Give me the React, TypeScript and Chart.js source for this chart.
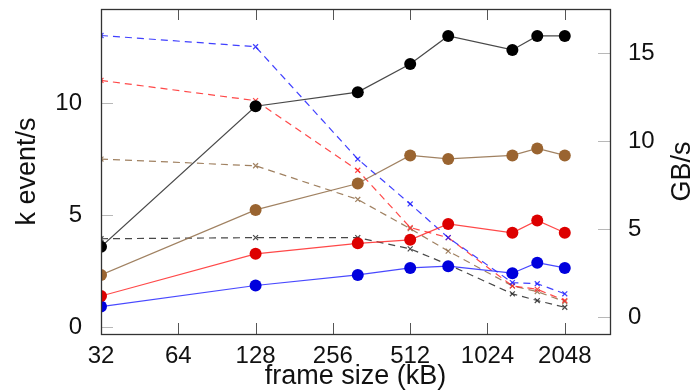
import React, { useEffect, useRef } from "react";
import { Chart, registerables } from "chart.js";

Chart.register(...registerables);

// frame sizes (kB)
const frameSizes = [32, 128, 320, 512, 720, 1280, 1600, 2048];
const xTickValues = [32, 64, 128, 256, 512, 1024, 2048];
const leftTickValues = [0, 5, 10];
const rightTickValues = [0, 5, 10, 15];

// throughput, GB/s (solid, right axis)
const gbBlack = [4.0, 12.0, 12.8, 14.4, 16.0, 15.2, 16.0, 16.0];
const gbBrown = [2.4, 6.1, 7.6, 9.2, 9.0, 9.2, 9.6, 9.2];
const gbRed = [1.2, 3.6, 4.2, 4.4, 5.3, 4.8, 5.5, 4.8];
const gbBlue = [0.6, 1.8, 2.4, 2.8, 2.9, 2.5, 3.1, 2.8];

// rate, k event/s (dashed, left axis)
const evBlue = [13.0, 12.5, 7.5, 5.5, 4.0, 2.0, 1.95, 1.5];
const evRed = [11.0, 10.1, 7.0, 4.45, 4.0, 1.85, 1.7, 1.2];
const evBrown = [7.5, 7.2, 5.7, 4.4, 3.4, 1.85, 1.6, 1.15];
const evBlack = [3.95, 4.0, 4.0, 3.5, 2.8, 1.5, 1.2, 0.9];

const FONT = "'Liberation Sans', 'DejaVu Sans', sans-serif";

const toPts = (ys: number[]) => frameSizes.map((x, i) => ({ x, y: ys[i] }));

const solid = (label: string, ys: number[], line: string, fill: string) => ({
  label,
  data: toPts(ys),
  yAxisID: "y2",
  borderColor: line,
  backgroundColor: fill,
  pointBackgroundColor: fill,
  pointBorderColor: fill,
  pointRadius: 6,
  pointBorderWidth: 0,
  borderWidth: 1.2,
  pointStyle: "circle",
  order: 0,
});

const dashed = (label: string, ys: number[], line: string) => ({
  label,
  data: toPts(ys),
  yAxisID: "y",
  borderColor: line,
  backgroundColor: line,
  pointBorderColor: line,
  pointRadius: 3.5,
  pointBorderWidth: 1.2,
  borderWidth: 1.2,
  borderDash: [7, 5],
  pointStyle: "crossRot",
  order: 1,
});

const framePlugin = {
  id: "framePlugin",
  afterDraw(chart: any) {
    const { ctx, chartArea } = chart;
    const { left, right, top, bottom } = chartArea;
    const x = chart.scales.x;
    const y = chart.scales.y;
    const y2 = chart.scales.y2;
    ctx.save();
    ctx.lineWidth = 1;
    // x ticks (bottom and top, inside)
    ctx.strokeStyle = "#555";
    for (const v of xTickValues) {
      const px = Math.round(x.getPixelForValue(v)) + 0.5;
      ctx.beginPath();
      ctx.moveTo(px, bottom);
      ctx.lineTo(px, bottom - 11);
      ctx.moveTo(px, top);
      ctx.lineTo(px, top + 11);
      ctx.stroke();
    }
    ctx.strokeStyle = "#b8b8b8";
    for (const v of leftTickValues) {
      const py = Math.round(y.getPixelForValue(v)) + 0.5;
      ctx.beginPath();
      ctx.moveTo(left, py);
      ctx.lineTo(left + 12, py);
      ctx.stroke();
    }
    for (const v of rightTickValues) {
      const py = Math.round(y2.getPixelForValue(v)) + 0.5;
      ctx.beginPath();
      ctx.moveTo(right, py);
      ctx.lineTo(right - 12, py);
      ctx.stroke();
    }
    // frame
    ctx.strokeStyle = "#333";
    ctx.lineWidth = 1.3;
    ctx.strokeRect(Math.round(left) + 0.5, Math.round(top) + 0.5, Math.round(right - left), Math.round(bottom - top));
    // right axis title (reads bottom-to-top)
    const t = chart.options.scales.y2.title;
    ctx.fillStyle = "#111";
    ctx.font = `27px ${FONT}`;
    ctx.textAlign = "center";
    ctx.textBaseline = "middle";
    ctx.translate(683, (top + bottom) / 2);
    ctx.rotate(-Math.PI / 2);
    ctx.fillText(t.text, 0, 0);
    ctx.restore();
  },
};

const fitVertical = (w: number) => (s: any) => {
  s.width = w;
  s.paddingTop = 0;
  s.paddingBottom = 0;
};

export default function App() {
  const ref = useRef<HTMLCanvasElement | null>(null);
  useEffect(() => {
    document.body.style.margin = "0";
    const canvas = ref.current!;
    const chart = new Chart(canvas, {
      type: "line",
      data: {
        datasets: [
          solid("black GB/s", gbBlack, "rgba(40,40,40,0.85)", "#000000"),
          solid("brown GB/s", gbBrown, "rgba(150,115,80,0.9)", "#9a6430"),
          solid("red GB/s", gbRed, "rgba(255,40,40,0.85)", "#dd0000"),
          solid("blue GB/s", gbBlue, "rgba(40,40,255,0.85)", "#0000dd"),
          dashed("blue k event/s", evBlue, "rgba(30,30,255,0.85)"),
          dashed("red k event/s", evRed, "rgba(255,40,40,0.85)"),
          dashed("brown k event/s", evBrown, "rgba(150,115,80,0.9)"),
          dashed("black k event/s", evBlack, "rgba(40,40,40,0.85)"),
        ] as any,
      },
      options: {
        responsive: false,
        animation: false,
        devicePixelRatio: 1,
        layout: { padding: { top: 9, left: 0, right: 0, bottom: 0 } },
        plugins: { legend: { display: false }, tooltip: { enabled: false } },
        scales: {
          x: {
            type: "logarithmic",
            min: 32,
            max: 3072,
            grid: { display: false },
            border: { display: false },
            afterBuildTicks: (s: any) => {
              s.ticks = xTickValues.map((v) => ({ value: v }));
            },
            afterFit: (s: any) => {
              s.height = 58;
              s.paddingLeft = 0;
              s.paddingRight = 0;
            },
            ticks: {
              callback: (v: any) => String(v),
              color: "#111",
              font: { family: FONT, size: 24 },
              padding: 0,
              maxRotation: 0,
              autoSkip: false,
            },
            title: {
              display: true,
              text: "frame size (kB)",
              color: "#111",
              font: { family: FONT, size: 27, lineHeight: 1 },
              padding: { top: 0, bottom: 1.5 },
            },
          },
          y: {
            type: "linear",
            position: "left",
            min: -0.29,
            max: 14.18,
            grid: { display: false },
            border: { display: false },
            afterBuildTicks: (s: any) => {
              s.ticks = leftTickValues.map((v) => ({ value: v }));
            },
            afterFit: fitVertical(101),
            ticks: {
              color: "#111",
              font: { family: FONT, size: 24 },
              padding: 11,
            },
            title: {
              display: true,
              text: "k event/s",
              color: "#111",
              font: { family: FONT, size: 27, lineHeight: 1 },
              padding: { top: 14.5, bottom: 0 },
            },
          },
          y2: {
            type: "linear",
            position: "right",
            min: -0.96,
            max: 17.53,
            grid: { display: false },
            border: { display: false },
            afterBuildTicks: (s: any) => {
              s.ticks = rightTickValues.map((v) => ({ value: v }));
            },
            afterFit: fitVertical(89),
            ticks: {
              color: "#111",
              font: { family: FONT, size: 24 },
              padding: 10,
            },
            title: {
              display: false,
              text: "GB/s",
            },
          },
        },
      },
      plugins: [framePlugin],
    } as any);
    return () => chart.destroy();
  }, []);
  return (
    <div style={{ position: "absolute", left: 0, top: 0, width: 699, height: 392 }}>
      <canvas ref={ref} width={699} height={392} />
    </div>
  );
}
